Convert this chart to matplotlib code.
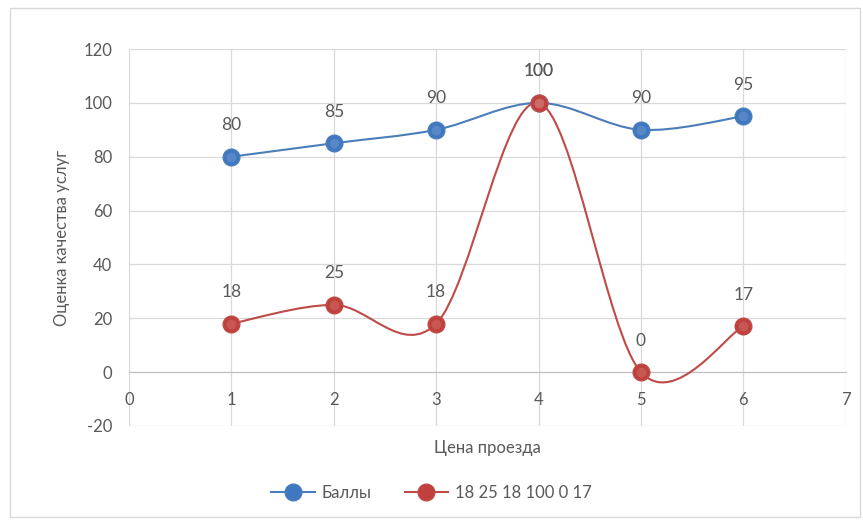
import matplotlib
matplotlib.use("Agg")
import matplotlib.pyplot as plt
import numpy as np
from matplotlib.path import Path
from matplotlib.patches import PathPatch, Rectangle

plt.rcParams['font.family'] = ['Lato', 'DejaVu Sans']
plt.rcParams['axes.unicode_minus'] = False

# data
x_vals = [1, 2, 3, 4, 5, 6]
balls = [80, 85, 90, 100, 90, 95]
second = [18, 25, 18, 100, 0, 17]
series_names = ["Баллы", "18 25 18 100 0 17"]
x_ticks = [0, 1, 2, 3, 4, 5, 6, 7]
y_ticks = [-20, 0, 20, 40, 60, 80, 100, 120]

text_col = "#595959"
grid_col = "#d9d9d9"
blue_line = "#4a7ebb"
red_line = "#be4b48"
blue_mk = "#3f78c0"
red_mk = "#c0403c"


def smooth_path(xs, ys):
    # Excel-style smoothed line as cubic bezier segments
    pts = np.column_stack([xs, ys]).astype(float)
    verts = [pts[0]]
    codes = [Path.MOVETO]
    n = len(pts)
    for i in range(n - 1):
        p0 = pts[i - 1] if i > 0 else pts[i]
        p1 = pts[i]
        p2 = pts[i + 1]
        p3 = pts[i + 2] if i + 2 < n else pts[i + 1]
        c1 = p1 + (p2 - p0) / 6.0
        c2 = p2 - (p3 - p1) / 6.0
        verts += [c1, c2, p2]
        codes += [Path.CURVE4] * 3
    return Path(verts, codes)


fig = plt.figure(figsize=(8.63, 5.23), dpi=100)
fig.patches.append(Rectangle((0.012, 0.012), 0.984, 0.972, transform=fig.transFigure,
                             fill=False, edgecolor="#d9d9d9", lw=1))
ax = fig.add_axes([0.1495, 0.1855, 0.8305, 0.7208])

ax.set_xlim(0, 7)
ax.set_ylim(-20, 120)
ax.set_xticks(x_ticks)
ax.set_yticks(y_ticks)
ax.grid(True, color=grid_col, lw=0.9)
ax.set_axisbelow(True)
for s in ["top", "right", "left"]:
    ax.spines[s].set_visible(False)
ax.spines["bottom"].set_position(("data", 0))
ax.spines["bottom"].set_color("#bfbfbf")
ax.tick_params(length=0, labelsize=12, colors=text_col)
ax.tick_params(axis="x", pad=14)
ax.tick_params(axis="y", pad=12)

ax.set_xlabel("Цена проезда", fontsize=12, color=text_col)
ax.xaxis.set_label_coords(0.5, -0.038)
ax.set_ylabel("Оценка качества услуг", fontsize=12, color=text_col, labelpad=10)

for ys, lc, mc, name in [(balls, blue_line, blue_mk, series_names[0]),
                         (second, red_line, red_mk, series_names[1])]:
    ax.add_patch(PathPatch(smooth_path(x_vals, ys), fill=False, edgecolor=lc, lw=1.5, zorder=3))
    ax.plot([], [], color=lc, lw=1.5, marker="o", ms=12, mfc=mc,
            mec=lc, label=name)
    ax.plot(x_vals, ys, ls="none", marker="o", ms=12, mfc=mc, mec=lc, mew=1, zorder=4)
    ax.plot(x_vals, ys, ls="none", marker="o", ms=7, mfc="white", mec="none",
            alpha=0.12, zorder=5)
    for xv, yv in zip(x_vals, ys):
        ax.annotate(str(yv), (xv, yv), xytext=(0, 17), textcoords="offset points",
                    ha="center", va="bottom", fontsize=12.5, color=text_col)

leg = fig.legend(loc="center", bbox_to_anchor=(0.5, 0.057), ncol=2, frameon=False,
                 fontsize=12, handlelength=2.6, columnspacing=2.0, handletextpad=0.4)
for t in leg.get_texts():
    t.set_color(text_col)

fig.savefig("out.png", dpi=100)
